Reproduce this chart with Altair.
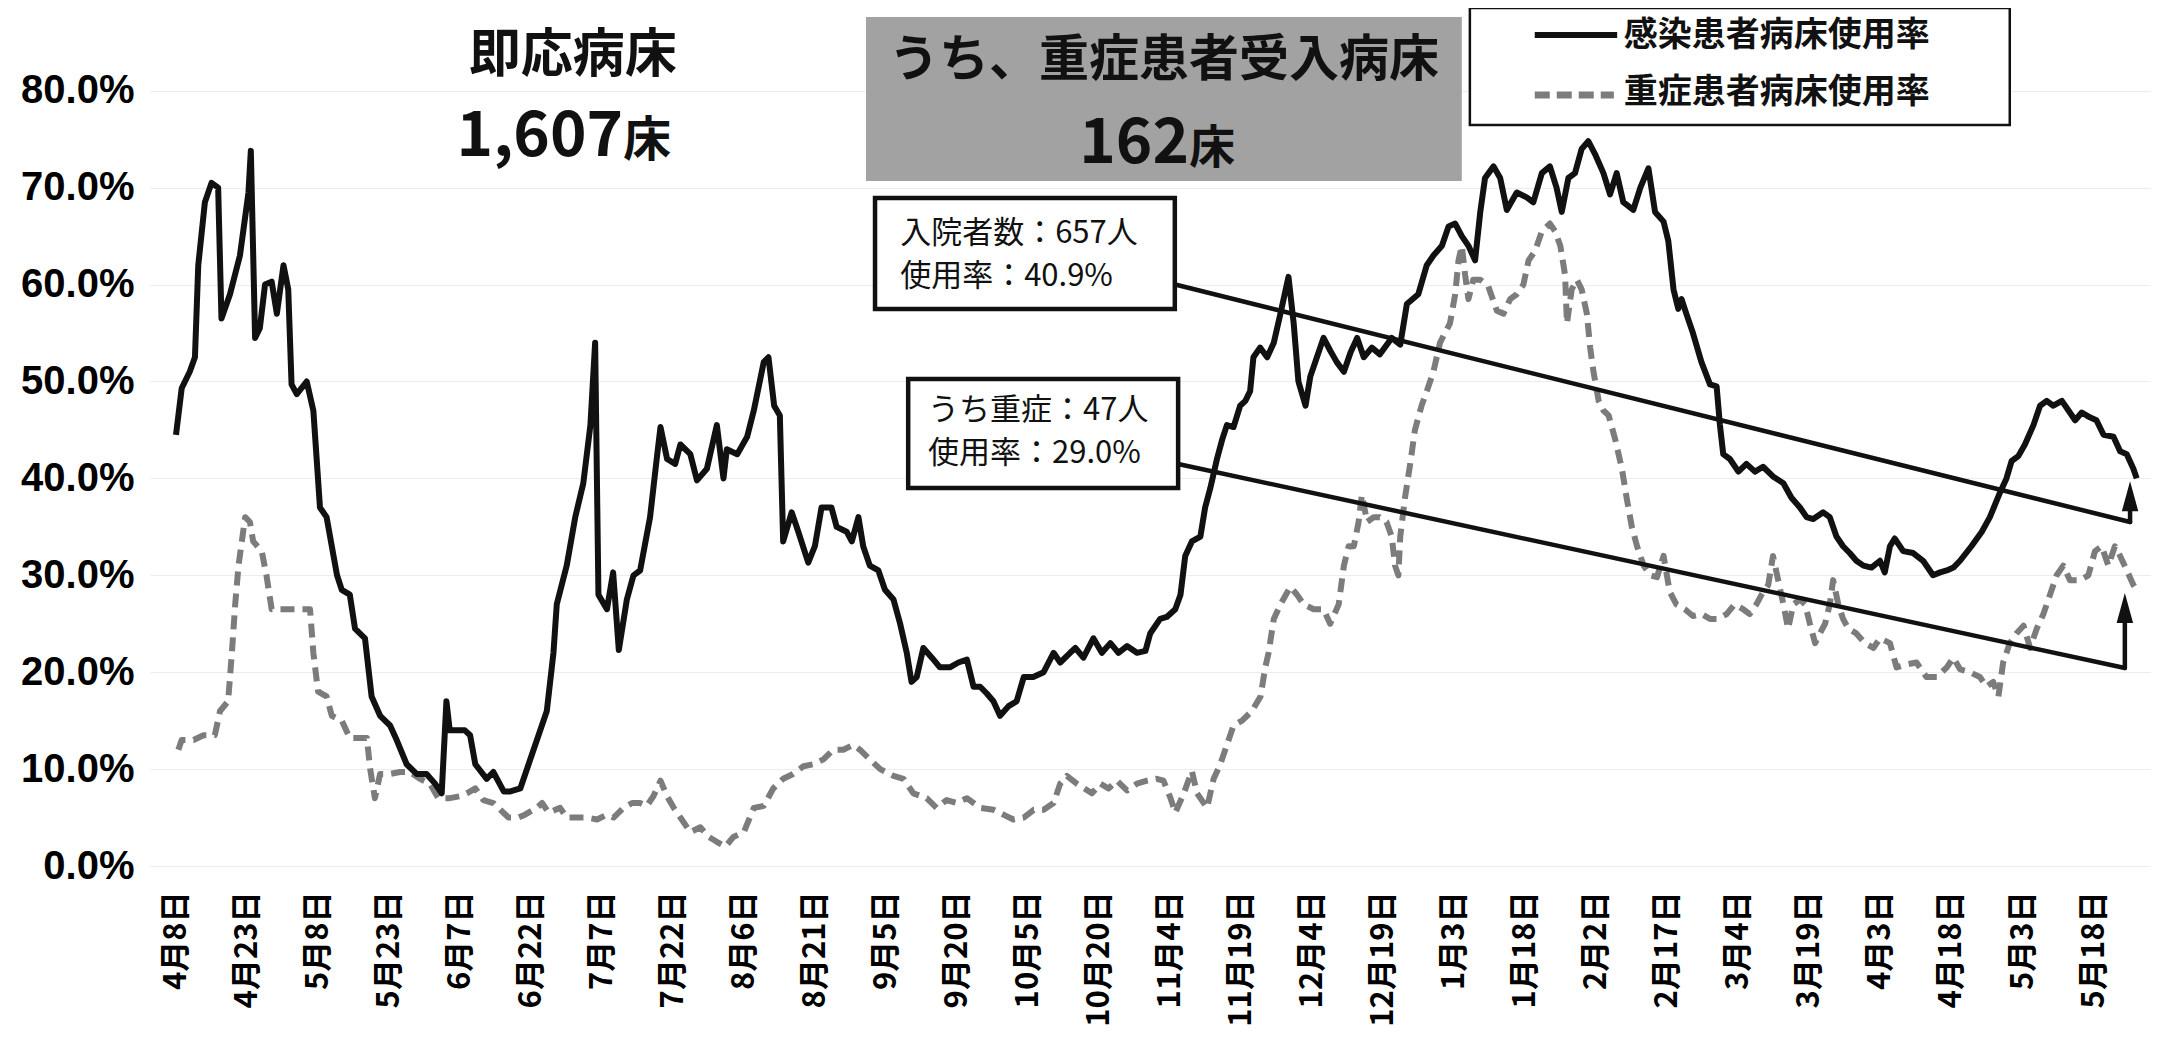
import altair as alt
import pandas as pd

# ---------------- data ----------------
START = "2020-04-08"

# days since 2020-04-08 / 感染患者病床使用率 (%)
SOLID_DAYS = [0, 1.2, 2.9, 4, 4.7, 6.1, 7.5, 8.9, 9.6, 11.4, 13.5, 15.3, 15.8, 16.7, 17.7, 18.8, 20.2,
              21.3, 22.7, 23.7, 24.4, 25.5, 27.6, 29, 30.4, 31.8, 34, 35, 36.7, 37.8, 39.9, 41.3, 43.1,
              45.2, 46.6, 48.7, 50.8, 52.9, 54.7, 56.1, 57.1, 57.8, 58.9, 61, 62.1, 63.2, 65.6, 67,
              69.2, 70.6, 72.7, 75.5, 78.3, 79.7, 80.4, 82.5, 84.3, 86, 87.5, 88.5, 89.2, 91, 92.3,
              93.5, 95.2, 96.6, 98, 100.1, 101.5, 102.3, 103.7, 105.4, 106.5, 108.6, 110, 112.1,
              114.2, 115.6, 116.3, 118.5, 120.6, 122, 124.1, 125.1, 126.3, 127.5, 128.2, 130, 131.4,
              133.5, 134.9, 136.3, 138.4, 139.5, 141.6, 142.7, 144.1, 145.1, 146.5, 148.3, 149.7,
              151.5, 152.9, 154.3, 155.3, 156.4, 157.8, 159.6, 161.3, 163.4, 165.2, 167, 168.4,
              169.8, 171.2, 172.6, 174, 175.8, 177.5, 179, 181, 183.2, 185.3, 186.7, 188.8, 189.9,
              191.6, 193.7, 195.5, 197.3, 199, 200.8, 202.9, 204.7, 205.7, 207.8, 209.2, 211, 212.1,
              213.1, 214.5, 216.3, 217.3, 218.4, 219.8, 220.9, 221.9, 223.3, 224.7, 225.8, 226.8,
              227.5, 228.9, 230.4, 231.8, 233.2, 234.9, 236, 237, 238.5, 239.5, 240.9, 242.3, 243.7,
              245.1, 246.6, 248, 249.4, 250.8, 252.5, 254.2, 256.7, 258.5, 259.9, 262.3, 264.1,
              265.5, 267.3, 268.7, 270.1, 271.5, 272.9, 274.3, 275.4, 276.4, 278.2, 279.6, 281,
              283.1, 285.2, 286.6, 288.4, 290.1, 291.5, 292.6, 294, 295.4, 296.8, 298.2, 299.6,
              301.4, 302.8, 304.2, 305.6, 307.7, 309.2, 310.9, 312.3, 314.1, 315.1, 316.2, 317.2,
              317.9, 318.9, 320.3, 322.1, 323.9, 325.3, 326, 326.7, 328.1, 329.9, 331.6, 333.4,
              335.1, 337.2, 339.4, 341.1, 342.9, 344.3, 345.7, 347.8, 349.2, 350.6, 352, 353.4,
              354.8, 356.3, 358, 359.8, 360.8, 361.9, 362.9, 364.7, 366.8, 368.9, 371, 372.5, 373.9,
              375.3, 376.7, 379.1, 381.3, 383, 385.1, 386.5, 387.6, 389, 390.4, 392.2, 393.6, 395,
              396.4, 398.2, 399.6, 401, 402.4, 404.1, 405.5, 407, 409.1, 410.5, 411.9, 413.3, 414]
SOLID_VALS = [44.5, 49.3, 51, 52.5, 62, 68.5, 70.5, 70, 56.5, 59, 63, 69.5, 73.8, 54.5, 55.5, 60, 60.3,
              57, 62, 59.5, 49.7, 48.7, 50, 47, 37, 36, 30, 28.5, 28, 24.5, 23.5, 17.5, 15.5,
              14.5, 13, 10.5, 9.5, 9.5, 8.5, 7.5, 17, 14, 14, 14, 13.5, 10.5, 9, 9.7,
              7.7, 7.7, 8, 12, 16, 22, 27, 31, 36, 39.5, 45.5, 54, 28, 26.5, 30.3,
              22.3, 27.5, 30, 30.5, 36, 42, 45.3, 42, 41.5, 43.5, 42.5, 39.8, 41,
              45.5, 40, 43, 42.5, 44.3, 47, 52, 52.5, 47.5, 46.5, 33.5, 36.5, 34.5,
              31.3, 33, 37, 37, 35, 34.5, 33.5, 36, 33, 31, 30.5, 28.5,
              27.5, 25, 22, 19, 19.5, 22.5, 21.5, 20.5, 20.5, 21, 21.3, 18.5,
              18.5, 17.8, 17, 15.5, 16.5, 17, 19.5, 19.5, 20, 22, 21, 22, 22.5,
              21.5, 23.5, 22, 23, 22, 22.7, 22, 22.2, 24, 25.5, 25.7, 26.5, 28,
              32, 33.5, 34, 37, 39, 42, 44, 45.5, 45.3, 47.5, 48, 49,
              52.5, 53.5, 52.5, 54, 57, 60.8, 56, 50, 47.5, 50.5, 52.5, 54.5, 53.2,
              52, 51, 53, 54.5, 52.5, 53.5, 52.8, 54.5, 53.8, 58, 59, 62,
              63, 64, 66, 66.3, 65, 64, 62.5, 67.5, 71, 72.2, 71, 67.7,
              69.5, 69, 68.5, 71.5, 72.2, 70, 67.5, 71, 71.5, 74, 74.8, 73.5,
              71.5, 69.3, 71.5, 68.5, 67.7, 70, 72, 67.5, 66.5, 64.5, 59.5, 57.5,
              58.5, 57, 55, 52, 49.7, 49.5, 45.5, 42.5, 42, 40.7, 41.5, 40.7,
              41.2, 40.2, 39.5, 38, 37, 36, 35.8, 36.5, 36, 34, 33, 32.3,
              31.5, 31, 30.8, 31.5, 30.3, 33, 33.8, 32.5, 32.3, 31.5, 30, 30.3, 30.5,
              30.8, 31.5, 33, 34.5, 36, 38.5, 40, 41.8, 42.3, 43.5, 45.5, 47.5, 48,
              47.5, 48, 47, 46, 46.8, 46.3, 46, 44.5, 44.3, 42.8, 42.5, 41, 40]

# days since 2020-04-08 / 重症患者病床使用率 (%)
SEVERE_DAYS = [0.5, 1.2, 3.7, 5.8, 8.2, 9.3, 11, 11.8, 12.5, 13.2, 14.6, 15.6, 16.3, 18.1, 19.1, 20.2,
               24.8, 28.3, 29, 30, 31.8, 32.9, 35, 36.7, 40.3, 41, 42, 43.1, 45.2, 47.3, 49.4, 51.5,
               53.6, 55.4, 57.8, 60, 61.4, 63.2, 64.9, 67, 70.2, 72.3, 73.7, 76.2, 77.3, 78.7, 81.1,
               82.5, 84.6, 86.8, 88.9, 91, 92.4, 94.5, 96.3, 98, 99.4, 100.8, 102.3, 103.7, 105.1,
               106.5, 108.6, 110.7, 112.5, 114.2, 116, 117.7, 119.9, 122, 124.1, 126.1, 128.2,
               130.3, 132.5, 134.6, 136.7, 138.8, 140.9, 143, 144.4, 146.5, 148.7, 151.5, 153.6,
               155.7, 158.5, 160.6, 162.7, 164.8, 167, 169.8, 172.6, 174.7, 176.8, 179, 181.1,
               183.2, 185.3, 186.7, 188.1, 190.2, 193.4, 195.2, 196.9, 198.7, 200.8, 202.9, 205,
               207.1, 208.5, 210, 211, 212.8, 214.5, 215.6, 217.7, 219.1, 220.5, 221.9, 223.3,
               225.1, 227.2, 229, 230, 230.7, 231.8, 233.2, 235.3, 236.7, 238.1, 240.2, 242.3,
               243.7, 245.5, 246.6, 247.6, 248.7, 249.7, 250.4, 251.5, 252.9, 254.2, 255.6, 256.7,
               257.4, 258.1, 258.5, 259.5, 260.6, 261.6, 263, 264.1, 265.5, 266.9, 269, 270.1,
               270.8, 271.5, 272.2, 272.9, 273.9, 275.4, 277.1, 278.9, 280.3, 281.7, 283.1, 284.5,
               285.6, 287, 288.4, 290.1, 291.2, 292.3, 293.3, 293.7, 294.7, 295.8, 296.8, 297.9,
               298.6, 299.3, 300.4, 301.4, 302.5, 303.9, 305.3, 306.3, 307.4, 308.5, 309.9, 311.3,
               312.7, 314.1, 315.4, 316.8, 318.6, 320.3, 322.1, 323.9, 325.6, 327.4, 329.1, 330.9,
               332.3, 333.7, 334.8, 336.2, 337.2, 338.3, 339.4, 340.4, 341.5, 342.9, 344, 345,
               346.1, 347.1, 348.2, 349.2, 349.9, 351, 352, 353.1, 354.8, 356.6, 358.4, 359.8,
               361.9, 363.3, 365.4, 367.5, 369.6, 371.8, 373.9, 375.3, 376.7, 378.8, 380.9, 382.3,
               383.7, 384.8, 385.8, 387.2, 388.6, 390.1, 391.5, 392.9, 394.3, 395.7, 397.1, 398.5,
               399.9, 402, 403.8, 405.2, 406.6, 408, 409.4, 410.5, 412.2, 413.3, 414]
SEVERE_VALS = [12, 13, 13, 13.5, 13.5, 16, 17, 22, 27, 31, 36, 35.5, 33.5, 32.5, 30, 26.5,
               26.5, 26.5, 22, 18, 17.5, 15.5, 15, 13.2, 13.2, 10, 7, 9.5, 9.5, 9.7, 9.7, 9,
               8.5, 7, 7, 7.2, 7.5, 8, 6.8, 6.5, 5, 5, 5.3, 6, 6.5, 5.5, 6,
               5, 5, 5, 4.8, 5.3, 5, 6, 6.5, 6.5, 6.2, 7.2, 8.8, 7.2, 6,
               5, 3.5, 4, 3, 2.5, 2, 3, 3.5, 6, 6.2, 8, 9,
               9.5, 10.3, 10.5, 11, 12, 12, 12.5, 12, 11, 10, 9.3, 9,
               7.5, 7, 6, 6.8, 6.5, 7, 6, 5.8, 5.3, 4.8, 5, 5.8,
               5.8, 6.5, 8.5, 9.3, 8.5, 7.5, 8.5, 8, 8.8, 7.8, 8.5, 8.8,
               9, 8.8, 7, 5.5, 7.5, 9.8, 7.5, 6, 9, 10.5, 12.5, 14.5,
               15, 16, 17.5, 20.5, 22, 25.5, 27, 28.8, 28, 27, 26.5, 26.5,
               25, 27, 31, 33, 33, 35.5, 38.3, 35.5, 36, 36, 35.5, 34,
               31, 30, 34, 38, 41.5, 45, 47.5, 49, 51, 54, 56, 59,
               62.5, 64, 61, 58.5, 60.5, 60.5, 59.8, 57.3, 57, 58.5, 59, 60,
               62.5, 63.5, 65.5, 66.3, 65.5, 64, 61, 56, 59.5, 60.5, 59.5, 57,
               53.5, 51, 48, 47, 46.5, 44, 41, 38, 35, 33, 31, 30,
               29.8, 32, 28.3, 27, 26.5, 25.8, 26, 25.5, 25.5, 26, 27, 26.5,
               26, 27, 28, 29, 32, 29.5, 27, 24.5, 27, 27.5, 27, 25,
               23, 24, 25, 27, 29.5, 27, 25.5, 24.5, 24, 23, 22.5, 23.5,
               23, 20.5, 20.8, 21, 19.5, 19.5, 20.5, 21.5, 20.3, 20, 19.5, 18.5,
               19, 17.5, 21, 23, 24, 24.8, 22.5, 24.5, 26, 28, 30, 31,
               29.5, 29.5, 30, 32.5, 33, 31, 33, 32, 30.2, 29, 28.5]

SERIES_NAMES = ["感染患者病床使用率", "重症患者病床使用率"]

TICK_DATES = ["2020-04-08", "2020-04-23", "2020-05-08", "2020-05-23", "2020-06-07", "2020-06-22",
              "2020-07-07", "2020-07-22", "2020-08-06", "2020-08-21", "2020-09-05", "2020-09-20",
              "2020-10-05", "2020-10-20", "2020-11-04", "2020-11-19", "2020-12-04", "2020-12-19",
              "2021-01-03", "2021-01-18", "2021-02-02", "2021-02-17", "2021-03-04", "2021-03-19",
              "2021-04-03", "2021-04-18", "2021-05-03", "2021-05-18"]
TICK_LABELS = ["4月8日", "4月23日", "5月8日", "5月23日", "6月7日", "6月22日", "7月7日", "7月22日",
               "8月6日", "8月21日", "9月5日", "9月20日", "10月5日", "10月20日", "11月4日", "11月19日",
               "12月4日", "12月19日", "1月3日", "1月18日", "2月2日", "2月17日", "3月4日", "3月19日",
               "4月3日", "4月18日", "5月3日", "5月18日"]
Y_TICKS = [0.0, 0.1, 0.2, 0.3, 0.4, 0.5, 0.6, 0.7, 0.8]

# annotation texts
BEDS_TITLE = "即応病床"
BEDS_NUM, BEDS_UNIT = "1,607", "床"
SEVERE_TITLE = "うち、重症患者受入病床"
SEVERE_NUM, SEVERE_UNIT = "162", "床"
BOX1_LINES = ["入院者数：657人", "使用率：40.9%"]
BOX2_LINES = ["うち重症：47人", "使用率：29.0%"]

# ---------------- layout helpers ----------------
X_DOMAIN = [-5.49, 416.81]
Y_DOMAIN = [0, 0.88338]
JP = "Noto Sans CJK JP"

start = pd.Timestamp(START)
TICK_DAYS = [(pd.Timestamp(d) - start).days for d in TICK_DATES]
label_expr = ("[" + ",".join("'%s'" % s for s in TICK_LABELS) + "][indexof(["
              + ",".join(str(d) for d in TICK_DAYS) + "], datum.value)]")

xs = alt.Scale(domain=X_DOMAIN, nice=False, zero=False)
ys = alt.Scale(domain=Y_DOMAIN, nice=False, zero=False)

X = alt.X("day:Q", scale=xs, axis=alt.Axis(
    values=TICK_DAYS, labelExpr=label_expr, labelAngle=270, labelFont=JP, labelFontSize=31,
    labelFontWeight="bold", labelColor="#000000", labelPadding=25, ticks=False, domain=False,
    grid=False, labelOverlap=False, labelFlush=False, title=None))
Y = alt.Y("rate:Q", scale=ys, axis=alt.Axis(
    values=Y_TICKS, format=".1%", labelFont="Liberation Sans", labelFontSize=40,
    labelFontWeight="bold", labelColor="#000000", labelPadding=16, ticks=False, domain=False,
    grid=True, gridColor="#ececec", gridWidth=1, title=None))

solid = pd.DataFrame({"day": SOLID_DAYS, "rate": [v / 100 for v in SOLID_VALS],
                      "series": SERIES_NAMES[0]})
severe = pd.DataFrame({"day": SEVERE_DAYS, "rate": [v / 100 for v in SEVERE_VALS],
                       "series": SERIES_NAMES[1]})

BLACK = "#111111"
GRAY = "#7c7c7c"

line_solid = alt.Chart(solid).mark_line(color=BLACK, strokeWidth=6, strokeJoin="round").encode(x=X, y=Y)
line_severe = alt.Chart(severe).mark_line(color=GRAY, strokeWidth=6, strokeDash=[14, 8],
                                          strokeJoin="round").encode(x=X, y=Y)

X2 = alt.X2("day2:Q")
Y2 = alt.Y2("rate2:Q")

# boxes
boxes = pd.DataFrame({
    "day": [145.7, 273.2, 147.6, 154.6],
    "day2": [271.5, 387.2, 210.9, 211.6],
    "rate": [0.8762, 0.8854, 0.6894, 0.5026],
    "rate2": [0.7069, 0.7647, 0.5748, 0.3901],
    "kind": ["gray", "legend", "box1", "box2"],
})
gray_box = alt.Chart(boxes[boxes.kind == "gray"]).mark_rect(fill="#a2a2a2").encode(x=X, x2=X2, y=Y, y2=Y2)
legend_box = alt.Chart(boxes[boxes.kind == "legend"]).mark_rect(
    fill="#ffffff", stroke=BLACK, strokeWidth=2.5).encode(x=X, x2=X2, y=Y, y2=Y2)
note_boxes = alt.Chart(boxes[boxes.kind.isin(["box1", "box2"])]).mark_rect(
    fill="#ffffff", stroke=BLACK, strokeWidth=4.5).encode(x=X, x2=X2, y=Y, y2=Y2)

# connectors and arrows
conn = pd.DataFrame({
    "day": [211.4, 211.6, 412.6, 411.5],
    "day2": [412.6, 411.5, 412.6, 411.5],
    "rate": [0.5996, 0.4149, 0.355, 0.2043],
    "rate2": [0.355, 0.2043, 0.385, 0.27],
})
connectors = alt.Chart(conn).mark_rule(color=BLACK, strokeWidth=4.5, strokeCap="round").encode(
    x=X, x2=X2, y=Y, y2=Y2)
heads = pd.DataFrame({"day": [412.6, 411.5], "rate": [0.397, 0.2817]})
arrowheads = alt.Chart(heads).mark_point(
    shape="M0,0L0.55,2L-0.55,2Z", size=900, filled=True, color=BLACK, opacity=1,
    strokeWidth=0).encode(x=X, y=Y)

# legend samples
leg = pd.DataFrame({"day": [286.9, 286.9], "day2": [304.3, 303.6], "rate": [0.8576, 0.7957],
                    "rate2": [0.8576, 0.7957]})
leg_solid = alt.Chart(leg.iloc[[0]]).mark_rule(color=BLACK, strokeWidth=6).encode(x=X, x2=X2, y=Y, y2=Y2)
leg_dash = alt.Chart(leg.iloc[[1]]).mark_rule(color=GRAY, strokeWidth=7, strokeDash=[15, 7]).encode(
    x=X, x2=X2, y=Y, y2=Y2)
leg_text = alt.Chart(pd.DataFrame({"day": [305.7, 305.7], "rate": [0.8566, 0.7977],
                                   "label": SERIES_NAMES})).mark_text(
    align="left", baseline="middle", font=JP, fontSize=34, fontWeight="bold", color=BLACK
).encode(x=X, y=Y, text="label:N")


def text_layer(days, rates, labels, **kw):
    df = pd.DataFrame({"day": days, "rate": rates, "label": labels})
    return alt.Chart(df).mark_text(font=JP, color=BLACK, **kw).encode(x=X, y=Y, text="label:N")


t_beds_title = text_layer([83.8], [0.8364], [BEDS_TITLE], fontSize=52, fontWeight="bold",
                          align="center", baseline="middle")
t_beds_num = text_layer([94.4], [0.7327], [BEDS_NUM], fontSize=62, fontWeight="bold",
                        align="right", baseline="alphabetic")
t_beds_unit = text_layer([94.4], [0.7327], [BEDS_UNIT], fontSize=48, fontWeight="bold",
                         align="left", baseline="alphabetic")
t_sev_title = text_layer([208.6], [0.8308], [SEVERE_TITLE], fontSize=50, fontWeight="bold",
                         align="center", baseline="middle")
t_sev_num = text_layer([213.9], [0.7255], [SEVERE_NUM], fontSize=62, fontWeight="bold",
                       align="right", baseline="alphabetic")
t_sev_unit = text_layer([213.9], [0.7255], [SEVERE_UNIT], fontSize=46, fontWeight="bold",
                        align="left", baseline="alphabetic")
t_box1 = text_layer([152.9, 152.9], [0.6522, 0.6078], BOX1_LINES, fontSize=31,
                    fontWeight="normal", align="left", baseline="middle")
t_box2 = text_layer([158.8, 158.8], [0.4696, 0.4252], BOX2_LINES, fontSize=31,
                    fontWeight="normal", align="left", baseline="middle")

chart = alt.layer(
    line_severe, line_solid,
    gray_box, legend_box, note_boxes, connectors, arrowheads,
    leg_solid, leg_dash, leg_text,
    t_beds_title, t_beds_num, t_beds_unit, t_sev_title, t_sev_num, t_sev_unit, t_box1, t_box2,
).properties(
    width=2000, height=856,
    autosize=alt.AutoSizeParams(type="none"),
    padding={"left": 142, "top": 2, "right": 3, "bottom": 167},
    background="#ffffff",
).configure_view(strokeWidth=0)

chart.save("out.html", embed_options={"renderer": "svg", "actions": False})
